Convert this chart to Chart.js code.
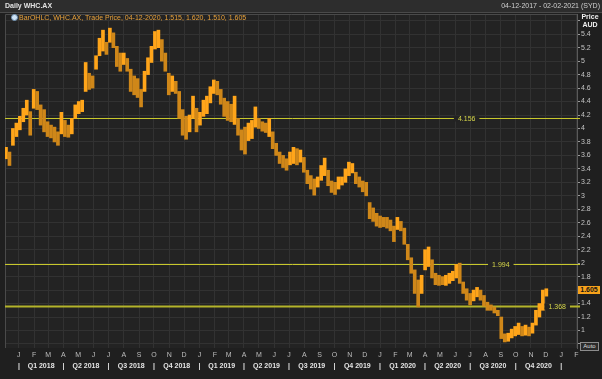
<!DOCTYPE html>
<html><head><meta charset="utf-8">
<script src="https://cdn.jsdelivr.net/npm/chart.js@4/dist/chart.umd.min.js"></script>
<style>
html,body{margin:0;padding:0;background:#1f1f1f;width:602px;height:379px;overflow:hidden;font-family:"Liberation Sans",Arial,sans-serif;}
#wrap{position:relative;width:602px;height:379px;}
canvas{position:absolute;left:0;top:0;}
#hdr{position:absolute;left:0;top:0;width:602px;height:12px;background:#2d2d2d;border-bottom:1px solid #4a4a4a;}
#title{position:absolute;left:5px;top:2px;font-size:7px;font-weight:bold;color:#e2e2e2;}
#range{position:absolute;right:2px;top:2px;font-size:7px;color:#cfcfcf;}
#legend{position:absolute;left:11px;top:14px;font-size:7px;color:#e9a23b;white-space:nowrap;}
#legend i{display:inline-block;width:5px;height:5px;border-radius:50%;background:#cfe3f5;border:1px solid #6c8fb0;margin-right:1px;vertical-align:-1px;}
.ax{position:absolute;left:580px;width:20px;text-align:center;font-size:7px;font-weight:bold;color:#f0f0f0;}
#pbox{position:absolute;left:578px;width:22px;height:8px;line-height:8px;background:#f7a21b;color:#151515;font-size:7px;font-weight:bold;text-align:center;}
#auto{position:absolute;left:580px;top:342px;width:17px;height:7px;line-height:7px;border:1px solid #8c8c8c;background:#2b2b2b;color:#dedede;font-size:6px;text-align:center;}
</style></head><body>
<div id="wrap">
<canvas id="c" width="602" height="379"></canvas>
<div id="hdr"><span id="title">Daily WHC.AX</span><span id="range">04-12-2017 - 02-02-2021 (SYD)</span></div>
<div id="legend"><i></i>BarOHLC, WHC.AX, Trade Price, 04-12-2020, 1.515, 1.620, 1.510, 1.605</div>
<div class="ax" style="top:13px">Price</div>
<div class="ax" style="top:21px">AUD</div>
<div id="pbox">1.605</div>
<div id="auto">Auto</div>
</div>
<script>
// ---- data ----
const rangeStart = '2017-12-04';
const rangeEnd = '2021-02-02';
const firstWeek = '2017-12-04';
const weeklyLow = [
 3.55,3.45,3.75,3.88,3.98,4.10,4.20,3.90,4.30,4.28,
 4.05,3.95,3.88,3.86,3.80,3.75,3.92,3.88,3.87,3.92,
 4.15,4.22,4.25,4.55,4.58,4.60,4.88,5.08,5.15,5.10,
 5.28,5.20,4.92,4.85,4.95,4.85,4.55,4.50,4.46,4.32,
 4.55,4.80,4.98,5.18,5.20,5.00,4.85,4.50,4.55,4.52,
 4.15,3.90,3.84,3.95,4.15,3.95,4.05,4.18,4.22,4.38,
 4.52,4.50,4.36,4.18,4.12,4.10,4.06,3.90,3.68,3.62,
 3.82,3.85,4.02,4.00,3.96,3.94,3.88,3.70,3.60,3.48,
 3.42,3.38,3.46,3.48,3.46,3.50,3.35,3.18,3.10,3.01,
 3.13,3.23,3.30,3.15,3.05,3.02,3.10,3.16,3.20,3.30,
 3.34,3.18,3.13,3.06,3.00,2.66,2.62,2.55,2.53,2.54,
 2.52,2.48,2.32,2.50,2.48,2.28,2.05,1.85,1.55,1.35,
 1.55,1.90,1.95,1.78,1.68,1.67,1.68,1.67,1.70,1.74,
 1.78,1.70,1.55,1.45,1.38,1.44,1.50,1.45,1.36,1.30,
 1.30,1.26,1.22,0.88,0.83,0.84,0.89,0.92,0.94,0.92,
 0.93,0.92,0.96,1.08,1.20,1.30,1.51
];
const weeklyHigh = [
 3.72,3.65,4.00,4.08,4.18,4.30,4.42,4.25,4.58,4.55,
 4.35,4.28,4.10,4.05,4.02,3.95,4.24,4.12,4.05,4.15,
 4.35,4.40,4.42,4.98,4.82,4.78,5.08,5.34,5.46,5.28,
 5.49,5.42,5.22,5.12,5.12,5.04,4.88,4.78,4.74,4.58,
 4.85,5.05,5.22,5.44,5.46,5.32,5.12,4.82,4.78,4.70,
 4.55,4.28,4.18,4.20,4.48,4.30,4.24,4.42,4.48,4.62,
 4.72,4.70,4.58,4.45,4.40,4.36,4.48,4.15,3.98,4.02,
 4.08,4.12,4.32,4.15,4.10,4.08,4.15,3.95,3.78,3.65,
 3.60,3.55,3.65,3.72,3.70,3.68,3.57,3.38,3.30,3.25,
 3.28,3.45,3.56,3.38,3.22,3.20,3.28,3.28,3.40,3.50,
 3.48,3.35,3.28,3.22,3.20,2.90,2.82,2.74,2.70,2.68,
 2.68,2.64,2.55,2.68,2.62,2.52,2.28,2.08,1.90,1.75,
 1.82,2.20,2.24,2.05,1.85,1.82,1.80,1.82,1.85,1.88,
 1.98,2.00,1.72,1.62,1.55,1.60,1.64,1.60,1.52,1.42,
 1.38,1.35,1.30,1.20,0.95,0.96,1.02,1.06,1.11,1.06,
 1.08,1.05,1.11,1.30,1.40,1.60,1.62
];
const lastClose = 1.605;
const levels = [4.156, 1.994, 1.368];
const levelLabelDates = ['2020-06-24', '2020-09-01', '2020-12-24'];
const monthLabels = ['J','F','M','A','M','J','J','A','S','O','N','D',
                     'J','F','M','A','M','J','J','A','S','O','N','D',
                     'J','F','M','A','M','J','J','A','S','O','N','D',
                     'J','F'];
const quarterLabels = ['Q1 2018','Q2 2018','Q3 2018','Q4 2018',
                       'Q1 2019','Q2 2019','Q3 2019','Q4 2019',
                       'Q1 2020','Q2 2020','Q3 2020','Q4 2020'];
const yTickValues = [0.8,1,1.2,1.4,1.6,1.8,2,2.2,2.4,2.6,2.8,3,3.2,3.4,3.6,3.8,4,4.2,4.4,4.6,4.8,5,5.2,5.4,5.6];
const yLabelMin = 1, yLabelMax = 5.4;

// ---- helpers ----
const DAY = 86400000, BASE = Date.UTC(2018,0,1);
const dayOf = s => (Date.parse(s + 'T00:00:00Z') - BASE) / DAY;
const monthDays = monthLabels.map((_, i) => (Date.UTC(2018, i, 1) - BASE) / DAY);
const qBounds = []; for (let i = 0; i <= quarterLabels.length; i++) qBounds.push((Date.UTC(2018, i*3, 1) - BASE) / DAY);
const qTicks = [];
qBounds.forEach((b, i) => {
  qTicks.push({value: b, label: '|'});
  if (i < quarterLabels.length) qTicks.push({value: (b + qBounds[i+1]) / 2, label: quarterLabels[i]});
});
const w0 = dayOf(firstWeek);
const bars = weeklyLow.map((lo, k) => ({x: w0 + 7*k + 2, y: [lo, weeklyHigh[k]]}));
const barColors = bars.map((b, k) => {
  if (k === 0) return '#ffa51a';
  const m = (b.y[0] + b.y[1]) / 2, p = (bars[k-1].y[0] + bars[k-1].y[1]) / 2;
  return m >= p ? '#ffa51a' : '#cf8719';
});

const PLOT_BG = '#232323';
const levelsPlugin = {
  id: 'levels',
  beforeDraw(chart) {
    const {ctx, chartArea: a} = chart;
    ctx.save();
    ctx.fillStyle = PLOT_BG;
    ctx.fillRect(a.left, a.top, a.right - a.left, a.bottom - a.top);
    ctx.restore();
  },
  beforeDatasetsDraw(chart) {
    const {ctx, chartArea: a, scales: {x, y}} = chart;
    ctx.save();
    ctx.strokeStyle = '#4a4a4a'; ctx.lineWidth = 1;
    ctx.beginPath(); ctx.moveTo(a.left + 0.5, a.bottom); ctx.lineTo(a.left + 0.5, a.top + 0.5); ctx.lineTo(a.right, a.top + 0.5); ctx.stroke();
    levels.forEach((v, i) => {
      const py = Math.round(y.getPixelForValue(v)) + 0.5;
      ctx.strokeStyle = i === 2 ? '#b4b42a' : '#c8c82c';
      ctx.lineWidth = i === 2 ? 2 : 1;
      ctx.beginPath(); ctx.moveTo(a.left, py); ctx.lineTo(a.right + 3, py); ctx.stroke();
    });
    ctx.restore();
  },
  afterDatasetsDraw(chart) {
    const {ctx, scales: {x, y}} = chart;
    ctx.save();
    ctx.font = '7px "Liberation Sans"';
    ctx.textAlign = 'center'; ctx.textBaseline = 'middle';
    levels.forEach((v, i) => {
      const py = Math.round(y.getPixelForValue(v)) + 0.5;
      const lx = x.getPixelForValue(dayOf(levelLabelDates[i]));
      const txt = v.toFixed(3);
      const w = ctx.measureText(txt).width;
      ctx.fillStyle = PLOT_BG;
      ctx.fillRect(lx - w/2 - 4, py - 3, w + 8, 6);
      ctx.fillStyle = '#d6d64a';
      ctx.fillText(txt, lx, py + 0.5);
    });
    ctx.restore();
    const pb = document.getElementById('pbox');
    pb.style.top = (Math.round(y.getPixelForValue(lastClose)) - 4) + 'px';
  }
};

const font7 = {family: '"Liberation Sans", Arial, sans-serif', size: 7};
new Chart(document.getElementById('c'), {
  type: 'bar',
  data: {
    datasets: [{
      label: 'WHC.AX',
      data: bars,
      backgroundColor: barColors,
      borderWidth: 0,
      barThickness: 3,
      xAxisID: 'x', yAxisID: 'y'
    }]
  },
  options: {
    responsive: false,
    animation: false,
    devicePixelRatio: 1,
    layout: {padding: {left: 5, top: 14, right: 0, bottom: 5}},
    plugins: {legend: {display: false}, tooltip: {enabled: false}},
    scales: {
      x: {
        type: 'linear', position: 'bottom', offset: false,
        min: dayOf(rangeStart), max: dayOf(rangeEnd),
        afterBuildTicks(s) { s.ticks = monthDays.map(v => ({value: v})); },
        afterFit(s) { s.height = 12; },
        ticks: {autoSkip: false, maxRotation: 0, minRotation: 0, color: '#bdbdbd', font: font7, padding: 3,
                callback: (v, i) => monthLabels[i]},
        grid: {color: '#323232', lineWidth: 1, drawTicks: false, offset: false},
        border: {display: false}
      },
      q: {
        type: 'linear', position: 'bottom', offset: false,
        min: dayOf(rangeStart), max: dayOf(rangeEnd),
        afterBuildTicks(s) { s.ticks = qTicks.map(t => ({value: t.value})); },
        afterFit(s) { s.height = 14; },
        ticks: {autoSkip: false, maxRotation: 0, minRotation: 0, color: '#e4e4e4',
                font: {family: '"Liberation Sans", Arial, sans-serif', size: 7, weight: 'bold'}, padding: 2,
                callback: (v, i) => qTicks[i].label},
        grid: {display: false, drawTicks: false},
        border: {display: false}
      },
      y: {
        type: 'linear', position: 'right',
        min: 0.74, max: 5.70,
        afterBuildTicks(s) { s.ticks = yTickValues.map(v => ({value: v})); },
        afterFit(s) { s.width = 25; },
        ticks: {autoSkip: false, color: '#c4c4c4', font: font7, padding: 1,
                callback: v => (v < yLabelMin - 1e-9 || v > yLabelMax + 1e-9) ? '' : String(+v.toFixed(1))},
        grid: {color: '#323232', lineWidth: 1, drawTicks: true, tickLength: 3, tickColor: '#9a9a9a'},
        border: {display: true, color: '#5a5a5a'}
      }
    }
  },
  plugins: [levelsPlugin]
});
</script>
</body></html>
